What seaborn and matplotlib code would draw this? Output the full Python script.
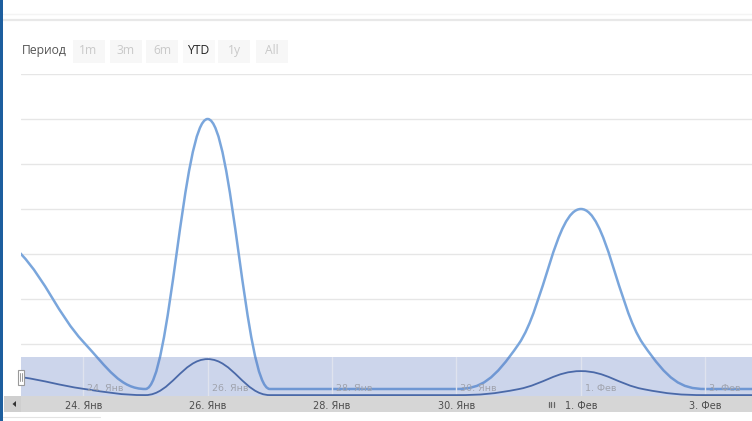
import numpy as np
import pandas as pd
import matplotlib
matplotlib.use("Agg")
import matplotlib.pyplot as plt
import matplotlib.dates as mdates
from matplotlib.path import Path
from matplotlib.patches import PathPatch, Rectangle, Polygon
from matplotlib.lines import Line2D
import seaborn as sns

# ---------------- data ----------------
dates = ["2013-01-22", "2013-01-23", "2013-01-24", "2013-01-25", "2013-01-26",
         "2013-01-27", "2013-01-28", "2013-01-29", "2013-01-30", "2013-01-31",
         "2013-02-01", "2013-02-02", "2013-02-03", "2013-02-04"]
values = [4.0, 3.0, 1.05, 0.0, 6.0, 0.0, 0.0, 0.0, 0.0, 1.0, 4.0, 1.0, 0.0, 0.0]
tick_dates = ["2013-01-24", "2013-01-26", "2013-01-28", "2013-01-30",
              "2013-02-01", "2013-02-03"]
tick_labels = ["24. Янв", "26. Янв", "28. Янв", "30. Янв", "1. Фев", "3. Фев"]
grid_levels = [1, 2, 3, 4, 5, 6, 7]
period_label = "Период"
range_buttons = ["1m", "3m", "6m", "YTD", "1y", "All"]
selected_button = "YTD"
view_start = "2013-01-23"
view_days = 11.75

df = pd.DataFrame({"date": pd.to_datetime(dates), "value": values})
df["x"] = mdates.date2num(df["date"])
tick_x = mdates.date2num(pd.to_datetime(tick_dates))
x0 = mdates.date2num(pd.Timestamp(view_start))

# ---------------- helpers ----------------
W, H, DPI = 752, 421, 100
sns.set_theme(style="white")
plt.rcParams["font.family"] = ["DejaVu Sans"]


def spline_path(xs, ys, smoothing=1.5):
    """Cubic Bezier spline through the data points (Highcharts-style)."""
    denom = smoothing + 1
    n = len(xs)
    lc, rc = [None] * n, [None] * n
    for i in range(n):
        x, y = xs[i], ys[i]
        if 0 < i < n - 1:
            lx, ly, nx, ny = xs[i - 1], ys[i - 1], xs[i + 1], ys[i + 1]
            lcx, lcy = (smoothing * x + lx) / denom, (smoothing * y + ly) / denom
            rcx, rcy = (smoothing * x + nx) / denom, (smoothing * y + ny) / denom
            corr = ((rcy - lcy) * (rcx - x)) / (rcx - lcx) + y - rcy
            lcy += corr
            rcy += corr
            if lcy > ly and lcy > y:
                lcy = max(ly, y); rcy = 2 * y - lcy
            elif lcy < ly and lcy < y:
                lcy = min(ly, y); rcy = 2 * y - lcy
            if rcy > ny and rcy > y:
                rcy = max(ny, y); lcy = 2 * y - rcy
            elif rcy < ny and rcy < y:
                rcy = min(ny, y); lcy = 2 * y - rcy
            lc[i], rc[i] = (lcx, lcy), (rcx, rcy)
        else:
            lc[i] = rc[i] = (x, y)
    verts = [(xs[0], ys[0])]
    codes = [Path.MOVETO]
    for i in range(1, n):
        verts += [rc[i - 1], lc[i], (xs[i], ys[i])]
        codes += [Path.CURVE4] * 3
    return Path(verts, codes)


def ax_rect(left, top, right, bottom):
    return [left / W, 1 - bottom / H, (right - left) / W, (bottom - top) / H]


def frect(left, top, right, bottom, **kw):
    r = Rectangle((left / W, 1 - bottom / H), (right - left) / W, (bottom - top) / H,
                  transform=fig.transFigure, **kw)
    fig.add_artist(r)
    return r


def fline(xa, ya, xb, yb, **kw):
    fig.add_artist(Line2D([xa / W, xb / W], [1 - ya / H, 1 - yb / H],
                          transform=fig.transFigure, **kw))


fig = plt.figure(figsize=(W / DPI, H / DPI), dpi=DPI)
fig.patch.set_facecolor("white")

# ---------------- main chart ----------------
ax = fig.add_axes(ax_rect(21, 74, 752, 392))
ax.set_zorder(1)
ax.set_facecolor("white")
ax.set_xlim(x0, x0 + view_days)
ax.set_ylim(-3 / 45, 7)
ax.set_yticks(grid_levels)
ax.set_yticklabels([])
ax.yaxis.grid(True, color="#e6e6e6", lw=1)
ax.xaxis.grid(False)
ax.set_xticks(tick_x)
ax.set_xticklabels(tick_labels, fontsize=7.0, color="#4d4d4d")
ax.tick_params(axis="x", length=0, pad=6.8)
ax.tick_params(axis="y", length=0)
sns.despine(ax=ax, left=True, bottom=True)
ax.add_patch(PathPatch(spline_path(df["x"].tolist(), df["value"].tolist()),
                       fill=False, edgecolor="#7aa6dc", lw=1.8,
                       capstyle="round", joinstyle="round"))

# ---------------- navigator ----------------
nav = fig.add_axes(ax_rect(21, 357, 752, 396))
nav.set_zorder(2)
nav.set_facecolor((88 / 255, 118 / 255, 192 / 255, 0.30))
nav.set_xlim(x0, x0 + view_days)
nav.set_ylim(-0.15, 6.35)
nav.set_xticks(tick_x)
nav.set_xticklabels([])
nav.set_yticks([])
nav.tick_params(length=0)
nav.xaxis.grid(True, color="#dfe3ee", lw=1)
sns.despine(ax=nav, left=True, bottom=True, right=True, top=True)
nav.add_patch(PathPatch(spline_path(df["x"].tolist(), df["value"].tolist()),
                        fill=False, edgecolor="#4a69a8", lw=1.3,
                        capstyle="round", joinstyle="round"))
for tx, lab in zip(tick_x, tick_labels):
    nav.annotate(lab, xy=(tx, 0.19), xycoords=("data", "axes fraction"),
                 xytext=(4, 0), textcoords="offset pixels",
                 ha="left", va="center", fontsize=6.8, color="#a0a3ad")

# ---------------- scrollbar band ----------------
frect(4, 396, 752, 411.5, facecolor="#d6d6d6", edgecolor="none", zorder=0.5)
frect(4, 396, 21, 411.5, facecolor="#cfcfcf", edgecolor="none", zorder=0.6)
fig.add_artist(Polygon([[12.5 / W, 1 - 404 / H], [16 / W, 1 - 401 / H],
                        [16 / W, 1 - 407 / H]], closed=True,
                       transform=fig.transFigure, facecolor="#333333",
                       edgecolor="none", zorder=3))
for gx in (548.5, 551, 553.5):
    fline(gx, 401.5, gx, 407, color="#666666", lw=0.9, zorder=3)

# navigator left handle
frect(17.5, 369.5, 24.5, 384.5, facecolor="white", edgecolor="#9a9a9a",
      lw=0.8, zorder=4)
fline(20, 373, 20, 381, color="#9a9a9a", lw=0.7, zorder=5)
fline(22, 373, 22, 381, color="#9a9a9a", lw=0.7, zorder=5)

# ---------------- top area ----------------
fline(3, 14, 752, 14, color="#f4f4f4", lw=1, zorder=0.5)
fline(3, 20, 752, 20, color="#e8e8e8", lw=1.6, zorder=0.5)
fline(3, 417, 100, 417, color="#e3e3e3", lw=0.8, zorder=0.5)

fig.text(21.5 / W, 1 - 50.5 / H, period_label, fontsize=8.7, color="#555555",
         ha="left", va="center", family=["Open Sans", "DejaVu Sans"])
btn_left = [72.5, 109.5, 146, 182.5, 218.5, 255.5]
for bl, lab in zip(btn_left, range_buttons):
    sel = lab == selected_button
    frect(bl, 39.5, bl + 32, 63, facecolor="#f7f7f7" if not sel else "#f9f9f9",
          edgecolor="none", zorder=0.5)
    fig.text((bl + 16) / W, 1 - 50.5 / H, lab, fontsize=8.7,
             color="#222222" if sel else "#c9c9c9", ha="center", va="center",
             family=["Open Sans", "DejaVu Sans"])

# left blue border
frect(0, 0, 3, 421, facecolor="#1d5e9e", edgecolor="none", zorder=10)

fig.savefig("out.png", dpi=DPI)
